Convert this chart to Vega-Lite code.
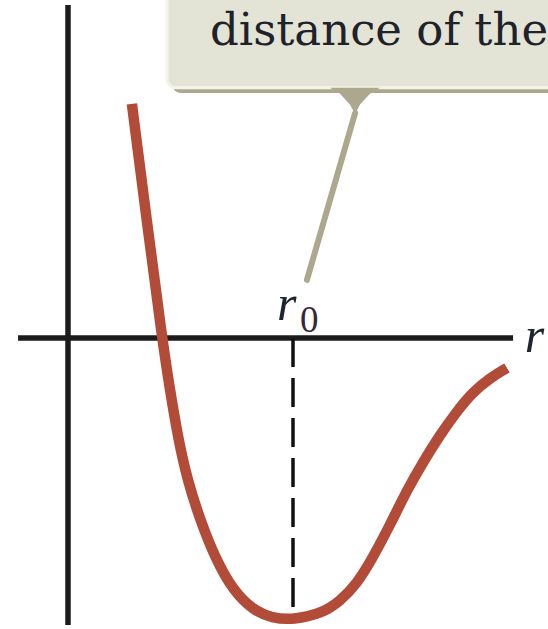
{
  "$schema": "https://vega.github.io/schema/vega-lite/v6.json",
  "width": 548,
  "height": 629,
  "padding": 0,
  "autosize": {"type": "none"},
  "background": "white",
  "config": {"view": {"stroke": null}},
  "datasets": {
    "curve": [
      {"r": 0.284, "U": 0.830},
      {"r": 0.351, "U": 0.411},
      {"r": 0.418, "U": 0.0},
      {"r": 0.453, "U": -0.184},
      {"r": 0.491, "U": -0.362},
      {"r": 0.531, "U": -0.504},
      {"r": 0.587, "U": -0.645},
      {"r": 0.658, "U": -0.787},
      {"r": 0.733, "U": -0.894},
      {"r": 0.822, "U": -0.965},
      {"r": 0.907, "U": -0.993},
      {"r": 1.0, "U": -1.0},
      {"r": 1.133, "U": -0.975},
      {"r": 1.209, "U": -0.933},
      {"r": 1.284, "U": -0.872},
      {"r": 1.356, "U": -0.777},
      {"r": 1.431, "U": -0.663},
      {"r": 1.507, "U": -0.539},
      {"r": 1.578, "U": -0.440},
      {"r": 1.653, "U": -0.344},
      {"r": 1.729, "U": -0.259},
      {"r": 1.8, "U": -0.191},
      {"r": 1.876, "U": -0.142},
      {"r": 1.951, "U": -0.106}
    ],
    "axesLines": [
      {"r": 0, "r2": 0, "U": 1.181, "U2": -1.018},
      {"r": -0.222, "r2": 1.978, "U": 0, "U2": 0}
    ],
    "equilibrium": [{"r": 1.0, "r2": 1.0, "U": 0, "U2": -1.0}],
    "shadow": [{"r": 0.462, "r2": 2.4, "U": 0.869, "U2": 1.4}],
    "box": [{"r": 0.44, "r2": 2.4, "U": 0.887, "U2": 1.4}],
    "pointer": [
      {"r": 1.164, "U": 0.887, "U2": 0.887},
      {"r": 1.209, "U": 0.866, "U2": 0.887},
      {"r": 1.253, "U": 0.828, "U2": 0.887},
      {"r": 1.276, "U": 0.794, "U2": 0.887},
      {"r": 1.298, "U": 0.828, "U2": 0.887},
      {"r": 1.342, "U": 0.866, "U2": 0.887},
      {"r": 1.387, "U": 0.887, "U2": 0.887}
    ],
    "leader": [
      {"r": 1.276, "U": 0.798},
      {"r": 1.062, "U": 0.206}
    ],
    "caption": [{"r": 0.631, "U": 1.039, "label": "distance of the"}],
    "symbolR": [
      {"r": 0.929, "U": 0.064, "label": "r"},
      {"r": 2.03, "U": -0.05, "label": "r"}
    ],
    "subscript": [{"r": 1.031, "U": 0.021, "label": "0"}]
  },
  "encoding": {
    "x": {"field": "r", "type": "quantitative", "axis": null,
          "scale": {"domain": [-0.3022, 2.1333], "nice": false, "zero": false}},
    "y": {"field": "U", "type": "quantitative", "axis": null,
          "scale": {"domain": [-1.0319, 1.1986], "nice": false, "zero": false}}
  },
  "layer": [
    {
      "data": {"name": "shadow"},
      "mark": {"type": "rect", "color": "#aca88e", "cornerRadius": 9, "clip": true},
      "encoding": {"x2": {"field": "r2"}, "y2": {"field": "U2"}}
    },
    {
      "data": {"name": "box"},
      "mark": {"type": "rect", "fill": "#e4e4d6", "stroke": "#f3f3ea", "strokeWidth": 3, "cornerRadius": 9, "clip": true},
      "encoding": {"x2": {"field": "r2"}, "y2": {"field": "U2"}}
    },
    {
      "data": {"name": "caption"},
      "mark": {"type": "text", "font": "DejaVu Serif", "fontSize": 45, "align": "left", "baseline": "alphabetic", "color": "#1e222b", "clip": true},
      "encoding": {"text": {"field": "label"}}
    },
    {
      "data": {"name": "pointer"},
      "mark": {"type": "area", "color": "#aca88e", "opacity": 1},
      "encoding": {"y2": {"field": "U2"}}
    },
    {
      "data": {"name": "leader"},
      "mark": {"type": "line", "color": "#aca88e", "strokeWidth": 6, "strokeCap": "round"},
      "encoding": {}
    },
    {
      "data": {"name": "axesLines"},
      "mark": {"type": "rule", "color": "#1b1b1b", "strokeWidth": 5.5},
      "encoding": {"x2": {"field": "r2"}, "y2": {"field": "U2"}}
    },
    {
      "data": {"name": "equilibrium"},
      "mark": {"type": "rule", "color": "#111111", "strokeWidth": 3.5, "strokeDash": [29, 11]},
      "encoding": {"x2": {"field": "r2"}, "y2": {"field": "U2"}}
    },
    {
      "data": {"name": "curve"},
      "mark": {"type": "line", "color": "#b24b37", "strokeWidth": 10.5, "interpolate": "basis", "strokeCap": "butt"},
      "encoding": {}
    },
    {
      "data": {"name": "symbolR"},
      "mark": {"type": "text", "font": "Liberation Serif", "fontStyle": "italic", "fontSize": 50, "align": "left", "baseline": "alphabetic", "color": "#1f2433", "clip": true},
      "encoding": {"text": {"field": "label"}}
    },
    {
      "data": {"name": "subscript"},
      "mark": {"type": "text", "font": "Liberation Serif", "fontSize": 37, "align": "left", "baseline": "alphabetic", "color": "#3b2634"},
      "encoding": {"text": {"field": "label"}}
    }
  ]
}
